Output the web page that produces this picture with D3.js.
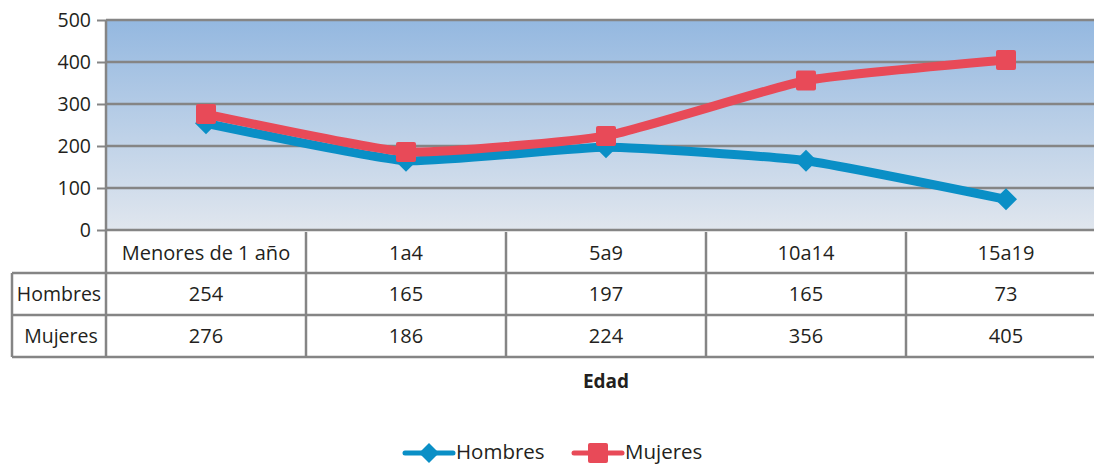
<!DOCTYPE html>
<html>
<head>
<meta charset="utf-8">
<script src="https://cdn.jsdelivr.net/npm/d3@7"></script>
<style>
  body { margin: 0; background: #fff; }
  svg { font-family: "Open Sans", sans-serif; }
</style>
</head>
<body>
<svg id="chart" width="1094" height="465"></svg>
<script>
/* Hombres / Mujeres por grupo de edad – line chart with data table */

const categories = ["Menores de 1 año", "1a4", "5a9", "10a14", "15a19"];
const hombres    = [254, 165, 197, 165, 73];
const mujeres    = [276, 186, 224, 356, 405];
const yTicks     = [0, 100, 200, 300, 400, 500];

const series = [
  { name: "Hombres", values: hombres, color: "#0a8fc6", width: 9, marker: "diamond" },
  { name: "Mujeres", values: mujeres, color: "#e84a58", width: 9, marker: "square" }
];

const svg = d3.select("#chart");
const gridColor = "#858585";
const textColor = "#231f20";

const plot = { left: 106, right: 1106, top: 20, bottom: 230 };

const x = d3.scaleBand().domain(categories).range([plot.left, plot.right]);
const y = d3.scaleLinear().domain([0, 500]).range([plot.bottom, plot.top]);

/* -- background gradient ------------------------------------------------ */
const grad = svg.append("defs").append("linearGradient")
  .attr("id", "bg").attr("x1", 0).attr("y1", 0).attr("x2", 0).attr("y2", 1);
grad.append("stop").attr("offset", "0%").attr("stop-color", "#94b8e0");
grad.append("stop").attr("offset", "100%").attr("stop-color", "#e0e6ee");

svg.append("rect")
  .attr("x", plot.left).attr("y", plot.top)
  .attr("width", plot.right - plot.left).attr("height", plot.bottom - plot.top)
  .attr("fill", "url(#bg)");

/* -- y axis + grid ------------------------------------------------------ */
const yAxis = svg.append("g")
  .attr("transform", `translate(${plot.left},0)`)
  .call(d3.axisLeft(y).tickValues(yTicks).tickSize(9).tickPadding(6));
yAxis.select(".domain").remove();
yAxis.selectAll("line").attr("stroke", gridColor).attr("stroke-width", 2);
yAxis.selectAll("text").attr("font-size", 19.5).attr("fill", textColor)
  .attr("font-family", "Open Sans, sans-serif");

svg.append("g").selectAll("line")
  .data(yTicks)
  .join("line")
    .attr("x1", plot.left).attr("x2", plot.right)
    .attr("y1", d => y(d)).attr("y2", d => y(d))
    .attr("stroke", gridColor).attr("stroke-width", 2.5);

/* -- data table --------------------------------------------------------- */
const rowY = [232, 273, 315, 357];
const labelLeft = 12;
const tblFont = 20;
const tbl = svg.append("g");

// header row (category names)
tbl.selectAll("text.cat")
  .data(categories)
  .join("text")
    .attr("class", "cat")
    .attr("x", d => x(d) + x.bandwidth() / 2)
    .attr("y", (rowY[0] + rowY[1]) / 2)
    .attr("dy", "0.35em")
    .attr("text-anchor", "middle")
    .attr("font-size", tblFont).attr("fill", textColor)
    .text(d => d);

series.forEach((s, i) => {
  const yc = (rowY[i + 1] + rowY[i + 2]) / 2;
  tbl.append("text")
    .attr("x", (labelLeft + plot.left) / 2 + (i === 1 ? 2 : 0))
    .attr("y", yc).attr("dy", "0.35em")
    .attr("text-anchor", "middle")
    .attr("font-size", tblFont - 0.5).attr("fill", textColor)
    .text(s.name);
  tbl.selectAll(null)
    .data(s.values)
    .join("text")
      .attr("x", (d, j) => x(categories[j]) + x.bandwidth() / 2)
      .attr("y", yc).attr("dy", "0.35em")
      .attr("text-anchor", "middle")
      .attr("font-size", tblFont).attr("fill", textColor)
      .text(d => d);
});

// table lines
tbl.selectAll("line.h")
  .data(rowY.slice(1))
  .join("line")
    .attr("x1", labelLeft).attr("x2", plot.right)
    .attr("y1", d => d).attr("y2", d => d)
    .attr("stroke", gridColor).attr("stroke-width", 2.5);

tbl.selectAll("line.v")
  .data(categories.map(c => x(c)))
  .join("line")
    .attr("x1", d => d).attr("x2", d => d)
    .attr("y1", (d, i) => i === 0 ? plot.top : rowY[0])
    .attr("y2", rowY[3])
    .attr("stroke", gridColor).attr("stroke-width", 2.5);
tbl.append("line")
  .attr("x1", labelLeft).attr("x2", labelLeft)
  .attr("y1", rowY[1]).attr("y2", rowY[3])
  .attr("stroke", gridColor).attr("stroke-width", 2.5);

/* -- lines + markers ---------------------------------------------------- */
const line = d3.line()
  .x((d, i) => x(categories[i]) + x.bandwidth() / 2)
  .y(d => y(d))
  .curve(d3.curveCardinal.tension(0.55));

function drawMarker(g, type, color, cx, cy, s) {
  if (type === "diamond") {
    g.append("path")
      .attr("d", `M${cx},${cy - s}L${cx + s},${cy}L${cx},${cy + s}L${cx - s},${cy}Z`)
      .attr("fill", color);
  } else {
    g.append("rect")
      .attr("x", cx - s).attr("y", cy - s)
      .attr("width", 2 * s).attr("height", 2 * s)
      .attr("rx", 2).attr("fill", color);
  }
}

series.forEach(s => {
  const g = svg.append("g");
  g.append("path")
    .datum(s.values)
    .attr("d", line)
    .attr("fill", "none")
    .attr("stroke", s.color)
    .attr("stroke-width", s.width)
    .attr("stroke-linejoin", "round")
    .attr("stroke-linecap", "round");
  s.values.forEach((v, i) => {
    drawMarker(g, s.marker, s.color,
      x(categories[i]) + x.bandwidth() / 2, y(v),
      s.marker === "diamond" ? 11 : 10);
  });
});

/* -- axis title --------------------------------------------------------- */
svg.append("text")
  .attr("x", 606).attr("y", 381).attr("dy", "0.35em")
  .attr("text-anchor", "middle")
  .attr("font-size", 19).attr("font-weight", "bold").attr("fill", textColor)
  .text("Edad");

/* -- legend ------------------------------------------------------------- */
const legend = svg.append("g");
const legendItems = [
  { s: series[0], x0: 405 },
  { s: series[1], x0: 574 }
];
legendItems.forEach(({ s, x0 }) => {
  legend.append("line")
    .attr("x1", x0).attr("x2", x0 + 48)
    .attr("y1", 453).attr("y2", 453)
    .attr("stroke", s.color).attr("stroke-width", 5)
    .attr("stroke-linecap", "round");
  drawMarker(legend, s.marker, s.color, x0 + 24, 453, 10);
  legend.append("text")
    .attr("x", x0 + 51).attr("y", 452).attr("dy", "0.35em")
    .attr("font-size", 20.5).attr("fill", textColor)
    .text(s.name);
});
</script>
</body>
</html>
